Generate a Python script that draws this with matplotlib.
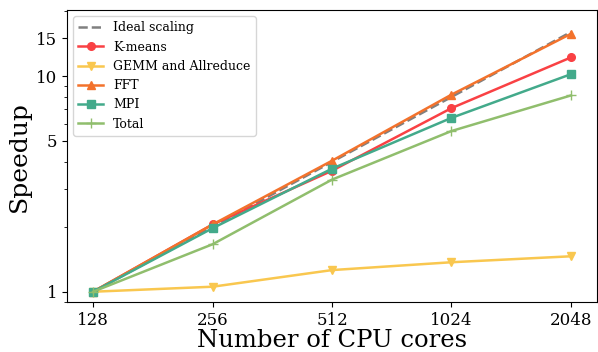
import matplotlib
matplotlib.use("Agg")
import matplotlib.pyplot as plt
from matplotlib.ticker import FixedLocator, FixedFormatter, NullLocator, NullFormatter, LogLocator

plt.rcParams["font.family"] = "DejaVu Serif"

cores = [128, 256, 512, 1024, 2048]
ideal = [1, 2, 4, 8, 16]
kmeans = [1, 2.05, 3.64, 7.1, 12.2]
gemm = [1, 1.055, 1.26, 1.37, 1.46]
fft = [1, 2.05, 4.05, 8.2, 15.7]
mpi = [1, 1.97, 3.72, 6.4, 10.2]
total = [1, 1.66, 3.31, 5.56, 8.13]

y_ticks = [1, 5, 10, 15]

fig = plt.figure(figsize=(5.98, 3.52), dpi=100)
ax = fig.add_axes([0.112, 0.142, 0.886, 0.829])

lw = 1.8
ax.plot(cores, ideal, "--", color="gray", linewidth=lw, label="Ideal scaling")
ax.plot(cores, kmeans, marker="o", color="#f94144", linewidth=lw, markersize=5.5, label="K-means")
ax.plot(cores, gemm, marker="v", color="#f9c74f", linewidth=lw, markersize=5.5, label="GEMM and Allreduce")
ax.plot(cores, fft, marker="^", color="#f3722c", linewidth=lw, markersize=5.5, label="FFT")
ax.plot(cores, mpi, marker="s", color="#43aa8b", linewidth=lw, markersize=5.5, label="MPI")
ax.plot(cores, total, marker="+", color="#90be6d", linewidth=lw, markersize=7, label="Total")

ax.set_xscale("log", base=2)
ax.set_yscale("log")
ax.xaxis.set_major_locator(FixedLocator(cores))
ax.xaxis.set_major_formatter(FixedFormatter([str(c) for c in cores]))
ax.xaxis.set_minor_locator(NullLocator())
ax.yaxis.set_major_locator(FixedLocator(y_ticks))
ax.yaxis.set_major_formatter(FixedFormatter([str(t) for t in y_ticks]))
ax.yaxis.set_minor_locator(LogLocator(base=10, subs=range(2, 10)))
ax.yaxis.set_minor_formatter(NullFormatter())
ax.set_ylim(0.896, 20.2)
ax.set_xlim(110, 2380)

ax.tick_params(labelsize=12)
ax.set_xlabel("Number of CPU cores", fontsize=17.5, labelpad=0)
ax.set_ylabel("Speedup", fontsize=18)
ax.legend(loc="upper left", fontsize=9)

fig.savefig("out.png", dpi=100)
